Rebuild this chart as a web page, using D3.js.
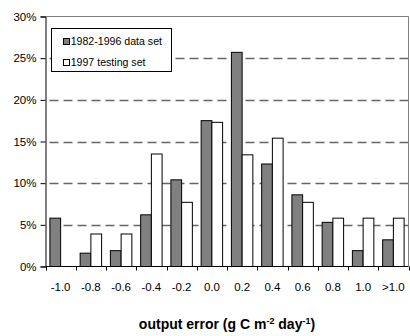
<!DOCTYPE html>
<html><head><meta charset="utf-8">
<script src="https://cdnjs.cloudflare.com/ajax/libs/d3/7.8.5/d3.min.js"></script>
<style>body{margin:0;background:#fff}svg{display:block;font-family:"Liberation Sans",Arial,sans-serif}</style>
</head><body><svg id="c" width="410" height="336"></svg>
<script>
const categories = ["-1.0","-0.8","-0.6","-0.4","-0.2","0.0","0.2","0.4","0.6","0.8","1.0",">1.0"];
const seriesNames = ["1982-1996 data set","1997 testing set"];
const trainValues = [5.8,1.6,1.9,6.2,10.4,17.5,25.7,12.3,8.6,5.3,1.9,3.2];
const testValues  = [0,3.9,3.9,13.5,7.7,17.3,13.4,15.4,7.7,5.8,5.8,5.8];
const yTicks = [0,5,10,15,20,25,30];
const seriesFill = ["#808080","#ffffff"];

const svg = d3.select("#c");
const L = 45.5, R = 408.5, T = 16.5, B = 266.5;
const x0 = d3.scaleBand().domain(categories).range([L, R]).padding(0);
const x1 = d3.scaleBand().domain([0,1]).range([0, x0.bandwidth()]).paddingInner(0).paddingOuter(0.41);
const y = d3.scaleLinear().domain([0,30]).range([B, T]);

// grid
svg.append("g").selectAll("line").data(yTicks.filter(d=>d>0 && d<30)).join("line")
  .attr("x1", L).attr("x2", R).attr("y1", d=>Math.round(y(d))+0.5).attr("y2", d=>Math.round(y(d))+0.5)
  .attr("stroke","#666").attr("stroke-width",1.3).attr("stroke-dasharray","9,5").attr("stroke-dashoffset",-4);
// plot border top/right
svg.append("path").attr("d",`M${L},${T}H${R}V${B}`).attr("fill","none").attr("stroke","#808080").attr("stroke-width",1);

// bars
const data = categories.map((c,i)=>({c, v:[trainValues[i], testValues[i]]}));
const g = svg.append("g");
data.forEach(d=>{
  d.v.forEach((v,s)=>{
    if (v<=0) return;
    g.append("rect")
      .attr("x", x0(d.c)+x1(s)).attr("width", x1.bandwidth())
      .attr("y", y(v)).attr("height", y(0)-y(v))
      .attr("fill", seriesFill[s]).attr("stroke","#000").attr("stroke-width",1);
  });
});

// y axis
const ya = d3.axisLeft(y).tickValues(yTicks).tickFormat(d=>d+"%").tickSize(5).tickPadding(4);
const yg = svg.append("g").attr("transform",`translate(${L},0)`).call(ya);
yg.select(".domain").attr("stroke","#000");
yg.selectAll(".tick line").attr("stroke","#000");
yg.selectAll("text").attr("font-size","11.5px").attr("fill","#000").attr("font-family","Liberation Sans, Arial, sans-serif");

// x axis
const xg = svg.append("g");
xg.append("line").attr("x1",L).attr("x2",R).attr("y1",B).attr("y2",B).attr("stroke","#000");
const bounds = categories.map(c=>x0(c)).concat([x0(categories[categories.length-1])+x0.bandwidth()]);
xg.selectAll("line.t").data(bounds).join("line").attr("class","t")
  .attr("x1",d=>Math.round(d)+0.5).attr("x2",d=>Math.round(d)+0.5).attr("y1",B).attr("y2",B+4).attr("stroke","#000");
xg.selectAll("text").data(categories).join("text")
  .attr("x",d=>x0(d)+x0.bandwidth()/2).attr("y",291)
  .attr("text-anchor","middle").attr("font-size","11.5px").text(d=>d);

// title
const t = svg.append("text").attr("x",(L+R)/2).attr("y",329).attr("text-anchor","middle")
  .attr("font-size","14px").attr("font-weight","bold");
t.append("tspan").text("output error (g C m");
t.append("tspan").attr("dy",-5).attr("font-size","9px").text("-2");
t.append("tspan").attr("dy",5).text(" day");
t.append("tspan").attr("dy",-5).attr("font-size","9px").text("-1");
t.append("tspan").attr("dy",5).text(")");

// legend
const lg = svg.append("g");
lg.append("rect").attr("x",51.5).attr("y",28.5).attr("width",120).attr("height",43)
  .attr("fill","#fff").attr("stroke","#000");
seriesNames.forEach((n,i)=>{
  const cy = 40.7 + i*21;
  lg.append("rect").attr("x",63.5).attr("y",Math.round(cy-3)+0.5).attr("width",6).attr("height",6)
    .attr("fill",seriesFill[i]).attr("stroke","#000");
  lg.append("text").attr("x",70.7).attr("y",cy+3.8).attr("font-size","10.6px").text(n);
});
</script></body></html>
